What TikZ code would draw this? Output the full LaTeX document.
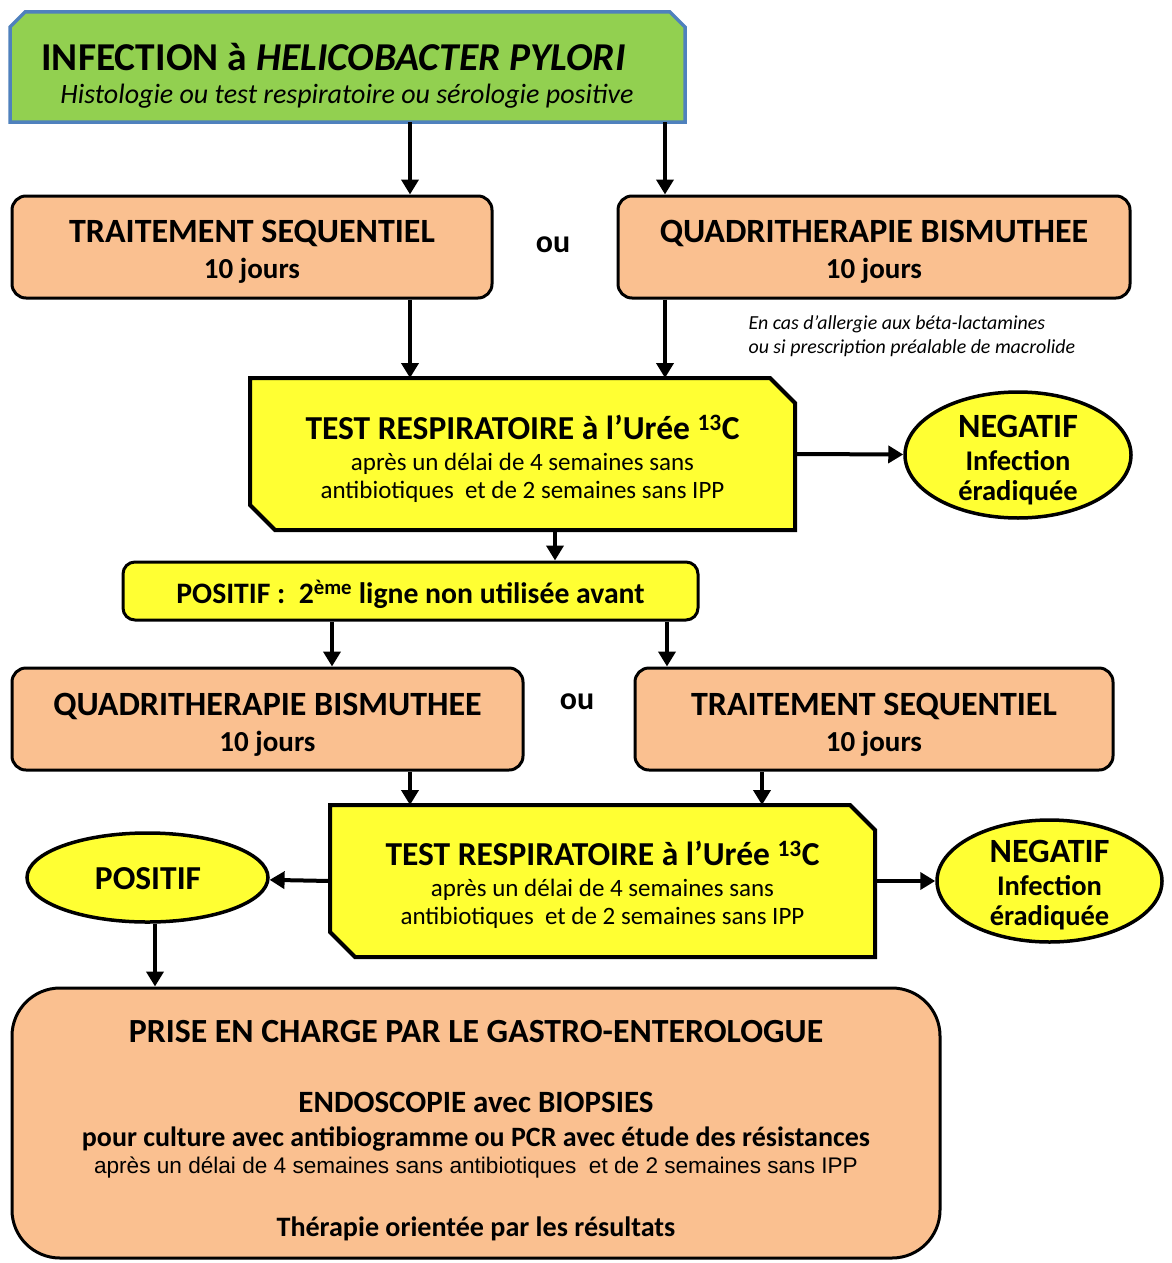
\documentclass[tikz,border=0pt]{standalone}
\usepackage{fontspec}
\setmainfont{Carlito}
\newfontfamily\arialfont{Liberation Sans}
\usetikzlibrary{shapes.geometric,arrows.meta}

\definecolor{vertinf}{HTML}{92D050}
\definecolor{bleuinf}{HTML}{4F81BD}
\definecolor{peche}{HTML}{FAC090}
\definecolor{jaune}{HTML}{FFFF33}

\newcommand{\taille}[2]{\fontsize{#1}{#2}\selectfont}

\tikzset{
  arr/.style={-{Triangle[length=15pt,width=17pt]}, line width=4pt},
  titlebox/.style={rectangle, minimum width=671.5pt, minimum height=106.5pt, inner sep=0pt, outer sep=1.75pt},
  titleline/.style={draw=bleuinf, line width=3.5pt, fill=vertinf},
  traitbox/.style={rectangle, rounded corners=14pt, draw, line width=3pt, fill=peche,
    minimum height=102pt},
  trait txt/.style={align=center, font=\bfseries\taille{34}{36}},
  testbox/.style={rectangle, minimum width=541pt, minimum height=148pt, inner sep=0pt, outer sep=2pt},
  testline/.style={draw, line width=4pt, fill=jaune},
  test txt/.style={align=center, font=\taille{25}{28}},
  resbox/.style={ellipse, draw, line width=3.5pt, fill=jaune},
  res txt/.style={align=center, font=\bfseries\taille{28.5}{30}},
  outxt/.style={font=\bfseries\taille{32}{32}},
}

\begin{document}
\begin{tikzpicture}[x=1pt, y=-1pt]
        \useasboundingbox (0,0) rectangle (1171,1263);

        % Diagnostic
        \node[titlebox] (infect) at (347.5,67) {};
        \filldraw[titleline] (infect.south west) -- ([yshift=-15pt]infect.north west) -- ([xshift=15pt]infect.north west)
          -- ([xshift=-15pt]infect.north east) -- ([yshift=-15pt]infect.north east) -- (infect.south east) -- cycle;
        \node[font=\bfseries\taille{39.5}{36}] (infect-t1) at (333.5,57) {INFECTION à \textit{HELICOBACTER PYLORI}};
        \node[font=\itshape\taille{28}{36}] (infect-t2) at (347,96) {Histologie ou test respiratoire ou sérologie positive};

        % Premiere ligne
        \node[traitbox, minimum width=480pt] (seq1) at (252,247) {};
        \node[trait txt] (seq1-t) at (252,252) {TRAITEMENT SEQUENTIEL\\{\taille{29}{36}10 jours}};
        \node[outxt] (ou1) at (553,245) {ou};
        \node[traitbox, minimum width=512pt] (quad1) at (874,247) {};
        \node[trait txt] (quad1-t) at (874,252) {QUADRITHERAPIE BISMUTHEE\\{\taille{29}{36}10 jours}};
        \node[anchor=west, align=left, font=\itshape\taille{19.9}{24}] (note) at (745,336)
          {En cas d’allergie aux béta-lactamines\\ou si prescription préalable de macrolide};

        % Premier test
        \node[testbox] (test1) at (522.5,454) {};
        \filldraw[testline] (test1.north west) -- ([xshift=-25pt]test1.north east) -- ([yshift=-25pt]test1.north east)
          -- (test1.south east) -- ([xshift=25pt]test1.south west) -- ([yshift=25pt]test1.south west) -- cycle;
        \node[test txt] (test1-t) at (522.5,459)
          {{\bfseries\taille{33.5}{28}TEST RESPIRATOIRE à l’Urée \textsuperscript{13}C}\\[3pt]
           après un délai de 4 semaines sans\\antibiotiques\ \ et de 2 semaines sans IPP};
        \node[resbox, minimum width=226pt, minimum height=126pt] (neg1) at (1018,455) {};
        \node[res txt] (neg1-t) at (1018,460) {{\taille{34}{30}NEGATIF}\\[3pt]Infection\\éradiquée};

        % Positif
        \node[rectangle, rounded corners=12pt, draw, line width=3pt, fill=jaune, minimum width=575pt,
          minimum height=58pt] (pos1) at (410.5,591) {};
        \node[font=\bfseries\taille{29.7}{30}] (pos1-t) at (410.5,594)
          {POSITIF :\ \ 2\textsuperscript{ème} ligne non utilisée avant};

        % Deuxieme ligne
        \node[traitbox, minimum width=511pt] (quad2) at (267.5,719) {};
        \node[trait txt] (quad2-t) at (267.5,724.5) {QUADRITHERAPIE BISMUTHEE\\{\taille{29}{36}10 jours}};
        \node[outxt] (ou2) at (577,702) {ou};
        \node[traitbox, minimum width=478pt] (seq2) at (874,719) {};
        \node[trait txt] (seq2-t) at (874,724.5) {TRAITEMENT SEQUENTIEL\\{\taille{29}{36}10 jours}};

        % Second test
        \node[testbox] (test2) at (602.5,881) {};
        \filldraw[testline] (test2.north west) -- ([xshift=-25pt]test2.north east) -- ([yshift=-25pt]test2.north east)
          -- (test2.south east) -- ([xshift=25pt]test2.south west) -- ([yshift=25pt]test2.south west) -- cycle;
        \node[test txt] (test2-t) at (602.5,884.5)
          {{\bfseries\taille{33.5}{28}TEST RESPIRATOIRE à l’Urée \textsuperscript{13}C}\\[3pt]
           après un délai de 4 semaines sans\\antibiotiques\ \ et de 2 semaines sans IPP};
        \node[resbox, minimum width=225pt, minimum height=122pt] (neg2) at (1049.5,881) {};
        \node[res txt] (neg2-t) at (1049.5,885) {{\taille{34}{30}NEGATIF}\\[3pt]Infection\\éradiquée};
        \node[resbox, minimum width=241pt, minimum height=89pt] (pos2) at (147.5,877.5) {};
        \node[font=\bfseries\taille{33.5}{30}] (pos2-t) at (148,879) {POSITIF};

        % Gastro-enterologue
        \node[rectangle, rounded corners=48pt, draw, line width=3pt, fill=peche, minimum width=928pt,
          minimum height=270pt] (gastro) at (476,1123) {};
        \node[align=center, font=\bfseries\taille{28}{30}] (gastro-t) at (476,1130.5)
          {{\taille{33.8}{30}PRISE EN CHARGE PAR LE GASTRO-ENTEROLOGUE}\\[40pt]
           {\taille{31}{30}ENDOSCOPIE avec BIOPSIES}\\[4pt]
           pour culture avec antibiogramme ou PCR avec étude des résistances\\[-3pt]
           {\mdseries\arialfont\taille{22.6}{30}après un délai de 4 semaines sans antibiotiques\ \ et de 2 semaines sans IPP}\\[33pt]
           {\taille{28.1}{30}Thérapie orientée par les résultats}};

        % Connexions
        \coordinate (xa) at (410,0);
        \coordinate (xb) at (665,0);
        \coordinate (xc) at (555,0);
        \coordinate (xd) at (332,0);
        \coordinate (xe) at (667,0);
        \coordinate (xf) at (762,0);
        \coordinate (xg) at (155,0);
        \draw[arr] (infect.south -| xa) -- (seq1.north -| xa);
        \draw[arr] (infect.south -| xb) -- (quad1.north -| xb);
        \draw[arr] (seq1.south -| xa) -- (test1.north -| xa);
        \draw[arr] (quad1.south -| xb) -- (test1.north -| xb);
        \draw[arr] (test1.east) -- (neg1);
        \draw[arr] (test1.south -| xc) -- (pos1.north -| xc);
        \draw[arr] (pos1.south -| xd) -- (quad2.north -| xd);
        \draw[arr] (pos1.south -| xe) -- (seq2.north -| xe);
        \draw[arr] (quad2.south -| xa) -- (test2.north -| xa);
        \draw[arr] (seq2.south -| xf) -- (test2.north -| xf);
        \draw[arr] (test2.east) -- (neg2);
        \draw[arr] (test2.west) -- (pos2);
        \draw[arr] (pos2.south -| xg) -- (gastro.north -| xg);
    \end{tikzpicture}
\end{document}
